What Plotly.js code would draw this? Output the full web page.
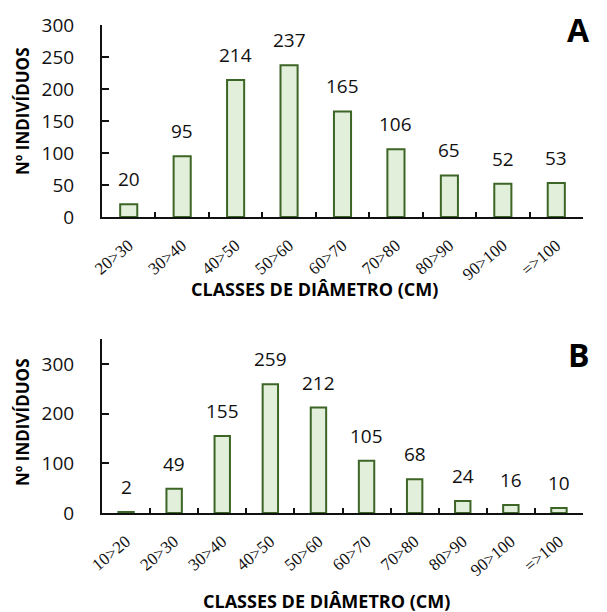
<!DOCTYPE html>
<html>
<head>
<meta charset="utf-8">
<script src="https://cdn.plot.ly/plotly-3.0.1.min.js"></script>
<style>html,body{margin:0;padding:0;background:#fff;}#chart{width:607px;height:612px;}</style>
</head>
<body>
<div id="chart"></div>
<script>
// Panel A
var catsA = ["20>30", "30>40", "40>50", "50>60", "60>70", "70>80", "80>90", "90>100", "=>100"];
var valsA = [20, 95, 214, 237, 165, 106, 65, 52, 53];
// Panel B
var catsB = ["10>20", "20>30", "30>40", "40>50", "50>60", "60>70", "70>80", "80>90", "90>100", "=>100"];
var valsB = [2, 49, 155, 259, 212, 105, 68, 24, 16, 10];
var yTicksA = [0, 50, 100, 150, 200, 250, 300];
var yTicksB = [0, 100, 200, 300];
var xTitle = "CLASSES DE DIÂMETRO (CM)";
var yTitle = "Nº INDIVÍDUOS";

var fill = "#e2efda", edge = "#3d6526", ink = "#111111";
var sans = "Open Sans, sans-serif";
var serif = "Liberation Serif, Times New Roman, serif";

function barTrace(x, y, xa, ya) {
  return {type: "bar", x: x, y: y, xaxis: xa, yaxis: ya, width: 0.32,
    marker: {color: fill, line: {color: edge, width: 2}}, hoverinfo: "none"};
}
var data = [barTrace(catsA, valsA, "x", "y"), barTrace(catsB, valsB, "x2", "y2")];

function xax(domainY) {
  return {domain: [102/607, 583/607], anchor: domainY, type: "category",
    showline: true, linecolor: ink, linewidth: 2, ticks: "inside", ticklen: 5, tickwidth: 2,
    tickcolor: ink, tickson: "boundaries", tickangle: -40, ticklabelstandoff: 10,
    tickfont: {family: serif, size: 17, color: ink}, showgrid: false, zeroline: false, fixedrange: true};
}
function yax(domain, range, ticks, anchorX) {
  return {domain: domain, anchor: anchorX, range: range, tickvals: ticks, showline: true,
    linecolor: ink, linewidth: 2, ticks: "inside", ticklen: 7, tickwidth: 2, tickcolor: ink,
    ticklabelstandoff: 22, tickfont: {family: sans, size: 19, color: ink},
    showgrid: false, zeroline: false, fixedrange: true};
}

var ann = [];
function labels(cats, vals, xr, yr) {
  for (var i = 0; i < cats.length; i++) {
    ann.push({x: cats[i], y: vals[i], xref: xr, yref: yr, text: String(vals[i]), showarrow: false,
      yanchor: "bottom", yshift: 10, font: {family: sans, size: 19, color: ink}});
  }
}
labels(catsA, valsA, "x", "y");
labels(catsB, valsB, "x2", "y2");
function ptext(t, x, y, size, angle) {
  ann.push({text: t, xref: "paper", yref: "paper", x: x/607, y: 1 - y/612, xanchor: "center",
    yanchor: "middle", showarrow: false, textangle: angle || 0,
    font: {family: sans, size: size, color: "#000", weight: "bold"}});
}
ptext("<b>" + xTitle + "</b>", 314, 289, 18);
ptext("<b>" + xTitle + "</b>", 326, 601, 18);
ptext("<b>" + yTitle + "</b>", 22, 111, 17, -90);
ptext("<b>" + yTitle + "</b>", 22, 422, 17, -90);
ptext("<b>A</b>", 578, 29, 32);
ptext("<b>B</b>", 579, 354, 32);

var layout = {
  width: 607, height: 612, margin: {l: 0, r: 0, t: 0, b: 0},
  paper_bgcolor: "#fff", plot_bgcolor: "#fff", showlegend: false,
  xaxis: xax("y"), yaxis: yax([1 - 217/612, 1 - 25/612], [0, 300], yTicksA, "x"),
  xaxis2: xax("y2"), yaxis2: yax([1 - 513/612, 1 - 339/612], [0, 350], yTicksB, "x2"),
  annotations: ann, bargap: 0.68
};
Plotly.newPlot("chart", data, layout, {displayModeBar: false, staticPlot: true});
</script>
</body>
</html>
